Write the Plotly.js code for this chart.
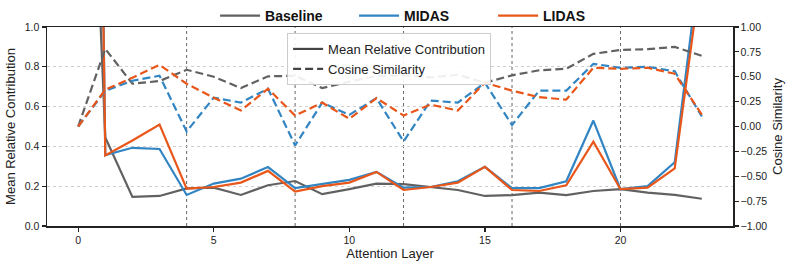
<!DOCTYPE html>
<html>
<head>
<meta charset="utf-8">
<script src="https://cdn.plot.ly/plotly-3.0.1.min.js"></script>
<style>html,body{margin:0;padding:0;background:#fff}#chart{width:793px;height:267px}</style>
</head>
<body>
<div id="chart"></div>
<script>
const layers = [0,1,2,3,4,5,6,7,8,9,10,11,12,13,14,15,16,17,18,19,20,21,22,23];
const methods = ["Baseline", "MIDAS", "LIDAS"];
const baselineContrib = [3.7,0.445,0.146,0.151,0.189,0.193,0.156,0.205,0.226,0.160,0.185,0.213,0.210,0.196,0.181,0.151,0.155,0.168,0.155,0.176,0.185,0.168,0.156,0.137];
const midasContrib    = [10.5,0.357,0.393,0.387,0.156,0.213,0.238,0.296,0.190,0.212,0.232,0.272,0.193,0.196,0.225,0.297,0.190,0.190,0.225,0.530,0.185,0.200,0.320,1.40];
const lidasContrib    = [10.0,0.355,0.430,0.510,0.188,0.196,0.218,0.277,0.173,0.200,0.218,0.272,0.181,0.196,0.218,0.297,0.181,0.176,0.205,0.424,0.185,0.193,0.289,1.30];
const baselineCos = [0.0,0.78,0.43,0.457,0.57,0.50,0.386,0.504,0.51,0.386,0.45,0.507,0.514,0.494,0.52,0.44,0.514,0.565,0.58,0.73,0.77,0.777,0.80,0.71];
const midasCos    = [0.0,0.36,0.46,0.51,-0.05,0.29,0.24,0.38,-0.19,0.24,0.117,0.285,-0.15,0.26,0.24,0.44,0.015,0.36,0.36,0.63,0.59,0.60,0.555,0.10];
const lidasCos    = [0.0,0.37,0.49,0.62,0.43,0.29,0.16,0.38,0.11,0.24,0.077,0.285,0.11,0.22,0.16,0.44,0.36,0.295,0.27,0.59,0.58,0.59,0.53,0.12];
const markerLayers = [4,8,12,16,20];
const xTicks = [0,5,10,15,20];
const metricNames = ["Mean Relative Contribution", "Cosine Similarity"];

const colors = ["#616161", "#3285c3", "#e8561a"];
const contribs = [baselineContrib, midasContrib, lidasContrib];
const coss = [baselineCos, midasCos, lidasCos];
const traces = [];
for (let i = 0; i < 3; i++) {
  traces.push({x: layers, y: contribs[i], type: 'scatter', mode: 'lines', name: methods[i],
    line: {color: colors[i], width: 2.2}, legend: 'legend', showlegend: true, hoverinfo: 'skip'});
  traces.push({x: layers, y: coss[i], yaxis: 'y2', type: 'scatter', mode: 'lines', name: methods[i] + ' cos',
    line: {color: colors[i], width: 2.2, dash: '8px,4px'}, showlegend: false, hoverinfo: 'skip'});
}
traces.push({x: [null], y: [null], type: 'scatter', mode: 'lines', name: metricNames[0],
  line: {color: '#444', width: 2.2}, legend: 'legend2', showlegend: true});
traces.push({x: [null], y: [null], type: 'scatter', mode: 'lines', name: metricNames[1],
  line: {color: '#444', width: 2.2, dash: '8px,4px'}, legend: 'legend2', showlegend: true});

const shapes = markerLayers.map(v => ({type: 'line', xref: 'x', yref: 'paper', x0: v, x1: v, y0: 0, y1: 1,
  line: {color: '#666', width: 1, dash: 'dot'}, layer: 'below'}));

const font = 'Liberation Sans, Arial, sans-serif';
const layout = {
  width: 793, height: 267,
  margin: {l: 47, r: 60, t: 27, b: 41, pad: 0, autoexpand: false},
  paper_bgcolor: '#fff', plot_bgcolor: '#fff',
  font: {family: font, size: 10.5, color: '#222'},
  xaxis: {range: [-1.15, 24.15], tickvals: xTicks, ticks: 'outside', ticklen: 4, tickwidth: 1.2, tickcolor: '#222',
    showgrid: false, zeroline: false, showline: true, mirror: true, linecolor: '#222', linewidth: 1.5,
    title: {text: 'Attention Layer', font: {size: 13, family: font}, standoff: 3}},
  yaxis: {range: [0, 1], dtick: 0.2, tickformat: '.1f', ticks: 'outside', ticklen: 4, tickwidth: 1.2, tickcolor: '#222',
    showgrid: true, gridcolor: '#cfcfcf', griddash: 'dot', gridwidth: 1, zeroline: false,
    showline: true, linecolor: '#222', linewidth: 1.5,
    title: {text: metricNames[0], font: {size: 13, family: font}, standoff: 6}},
  yaxis2: {range: [-1, 1], dtick: 0.25, tickformat: '.2f', overlaying: 'y', side: 'right',
    ticks: 'outside', ticklen: 4, tickwidth: 1.2, tickcolor: '#222', showgrid: false, zeroline: false,
    showline: true, linecolor: '#222', linewidth: 1.5,
    title: {text: metricNames[1], font: {size: 13, family: font}, standoff: 6}},
  legend: {orientation: 'h', x: 0.245, xanchor: 'left', y: 1.055, yanchor: 'middle', entrywidth: 84,
    font: {size: 14, family: font, weight: 'bold', color: '#111'}, bgcolor: 'rgba(0,0,0,0)', itemwidth: 40},
  legend2: {x: 0.35, xanchor: 'left', y: 0.97, yanchor: 'top', bgcolor: 'rgba(255,255,255,0.9)',
    bordercolor: '#cccccc', borderwidth: 1, font: {size: 13, family: font, color: '#222'}, tracegroupgap: 0},
  shapes: shapes,
  showlegend: true
};
Plotly.newPlot('chart', traces, layout, {staticPlot: true});
</script>
</body>
</html>
